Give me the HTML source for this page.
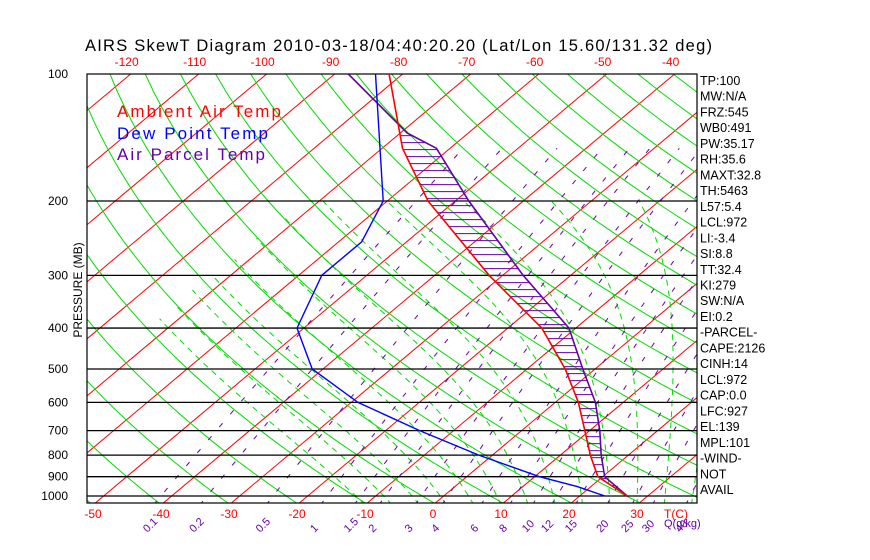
<!DOCTYPE html>
<html><head><meta charset="utf-8"><style>
body{margin:0;background:#fff;width:870px;height:560px;overflow:hidden}
svg{display:block;font-family:"Liberation Sans",sans-serif}
</style></head><body>
<svg id="chart" width="870" height="560" viewBox="0 0 870 560">
<defs><clipPath id="clip"><rect x="87" y="74" width="610" height="429"/></clipPath></defs>
<text x="85" y="51" font-size="16.5" fill="#000" textLength="627" lengthAdjust="spacing">AIRS SkewT Diagram 2010-03-18/04:40:20.20 (Lat/Lon 15.60/131.32 deg)</text>
<g id="bg" clip-path="url(#clip)"></g>
<g id="grid"></g>
<g id="data" clip-path="url(#clip)"></g>
<g id="labels"></g>
<text x="117" y="117" font-size="17" fill="#f00" textLength="164" lengthAdjust="spacing">Ambient Air Temp</text>
<text x="117" y="139" font-size="17" fill="#00f" textLength="151" lengthAdjust="spacing">Dew Point Temp</text>
<text x="117" y="160" font-size="17" fill="#60a" textLength="148" lengthAdjust="spacing">Air Parcel Temp</text>
<text transform="translate(82,290) rotate(-90)" text-anchor="middle" font-size="12">PRESSURE (MB)</text>
</svg>
<script>
const pLevels=[100,150,200,300,400,500,600,700,800,900,1000];
const tempEnv=[-82,-67,-54,-32,-15,-4.4,3.4,9.3,14.4,19.3,27];
const dewPLevels=[100,200,250,300,400,500,600,700,800,900,950,1000];
const dewPoint=[-84,-60.6,-56.6,-56.6,-51,-41.6,-29,-15,-2,10.7,18,23.7];
const parcelPLevels=[100,138,150,200,300,400,500,600,700,800,900,1000];
const parcelTemp=[-88,-69,-62,-48,-27,-11,-1.8,5.9,11.5,16,20.3,27];
const yTicks=[100,200,300,400,500,600,700,800,900,1000];
const topTicks=[-120,-110,-100,-90,-80,-70,-60,-50,-40];
const botTicks=[-50,-40,-30,-20,-10,0,10,20,30];
const mixRatios=[0.1,0.2,0.5,1,1.5,2,3,4,6,8,10,12,15,20,25,30,40];
const infoLabels=["TP:100","MW:N/A","FRZ:545","WB0:491","PW:35.17","RH:35.6","MAXT:32.8","TH:5463","L57:5.4","LCL:972","LI:-3.4","SI:8.8","TT:32.4","KI:279","SW:N/A","EI:0.2","-PARCEL-","CAPE:2126","CINH:14","LCL:972","CAP:0.0","LFC:927","EL:139","MPL:101","-WIND-","NOT","AVAIL"];

const NS="http://www.w3.org/2000/svg";
function Y(p){return 74+422*Math.log10(p/100);}
function X(T,p){return 433+6.8*T+503*Math.log10(1050/p);}
function mk(tag,attrs,parent,text){const e=document.createElementNS(NS,tag);for(const k in attrs)e.setAttribute(k,attrs[k]);if(text!==undefined)e.textContent=text;parent.appendChild(e);return e;}
const bg=document.getElementById('bg'),grid=document.getElementById('grid'),dg=document.getElementById('data'),lb=document.getElementById('labels');
function poly(pts){return pts.map(q=>q[0].toFixed(1)+','+q[1].toFixed(1)).join(' ');}
for(let T=-160;T<=50;T+=10){const l=mk('line',{x1:X(T,1050),y1:Y(1050),x2:X(T,100),y2:Y(100),stroke:'#f00','stroke-width':1},bg);

}
for(let th=200;th<=500;th+=10){const pts=[];for(let p=1050;p>=100;p-=10){pts.push([X(th*Math.pow(p/1000,0.286)-273.15,p),Y(p)]);}
const e=mk('polyline',{points:poly(pts),fill:'none',stroke:'#0d0','stroke-width':1},bg);

}
function es(T){return 6.112*Math.exp(17.67*T/(T+243.5));}
for(let T0=-10;T0<=40;T0+=4){let T=T0+273.15;const pts=[];for(let p=1050;p>=200;p-=5){pts.push([X(T-273.15,p),Y(p)]);const rs=0.622*es(T-273.15)/(p-es(T-273.15));const dTdp=(287*T+2.5e6*rs)/(1004+2.5e6*2.5e6*rs*0.622/(287*T*T))/p;T-=dTdp*5;if(T<200)break;}
const e=mk('polyline',{points:poly(pts),fill:'none',stroke:'#0d0','stroke-width':1,'stroke-dasharray':'6,5'},bg);

}
function tdFromW(w,p){const e=w/1000*p/(0.622+w/1000);const a=Math.log(e/6.112);return 243.5*a/(17.67-a);}
for(const w of mixRatios){const pts=[];for(let p=1050;p>=150;p-=10)pts.push([X(tdFromW(w,p),p),Y(p)]);
const e=mk('polyline',{points:poly(pts),fill:'none',stroke:'#60a','stroke-width':1,'stroke-dasharray':'5,12'},bg);

}
const fr=mk('rect',{x:87,y:74,width:610,height:429,fill:'none',stroke:'#000','stroke-width':1.2},grid);


for(const p of yTicks){if(p>100){const l=mk('line',{x1:87,x2:697,y1:Y(p),y2:Y(p),stroke:'#000','stroke-width':1.3},grid);

}
const t=mk('text',{x:68,y:Y(p)+4,'text-anchor':'end','font-size':12},lb,String(p));

}
for(const T of topTicks){const t=mk('text',{x:X(T,100)-4,y:66,'text-anchor':'middle','font-size':12,fill:'#f00'},lb,String(T));

}
for(const T of botTicks){const t=mk('text',{x:X(T,1050),y:518,'text-anchor':'middle','font-size':12,fill:'#f00'},lb,String(T));

}
const tc=mk('text',{x:664,y:518,'font-size':12,fill:'#f00'},lb,'T(C)');


for(const w of mixRatios){const x=X(tdFromW(w,1050),1050);const t=mk('text',{transform:`translate(${(x-6).toFixed(1)},533) rotate(-45)`,'font-size':11,fill:'#60a'},lb,String(w));

}
const qg=mk('text',{x:664,y:527,'font-size':11,fill:'#60a'},lb,'Q(g/kg)');


infoLabels.forEach((s,i)=>{const t=mk('text',{x:700,y:85+i*15.73,'font-size':12.5},lb,s);

});
function interp(ps,vs,p){const lp=Math.log(p);for(let i=0;i<ps.length-1;i++){const a=Math.log(ps[i]),b=Math.log(ps[i+1]);if(lp>=a&&lp<=b){return vs[i]+(vs[i+1]-vs[i])*(lp-a)/(b-a);}}return NaN;}
for(let y=Y(140);y<Y(1000);y+=7){const p=100*Math.pow(10,(y-74)/422);const te=interp(pLevels,tempEnv,p),tp=interp(parcelPLevels,parcelTemp,p);
if(tp>te){const l=mk('line',{x1:X(te,p),x2:X(tp,p),y1:y,y2:y,stroke:'#60a','stroke-width':1},dg);

}}
function series(ps,vs,color,name,w){const e=mk('polyline',{points:poly(ps.map((p,i)=>[X(vs[i],p),Y(p)])),fill:'none',stroke:color,'stroke-width':w},dg);

}
series(parcelPLevels,parcelTemp,'#60a','parcel-temp-line',1.6);
series(dewPLevels,dewPoint,'#00f','dew-point-line',1.4);
series(pLevels,tempEnv,'#f00','ambient-temp-line',1.6);
</script>
</body></html>
